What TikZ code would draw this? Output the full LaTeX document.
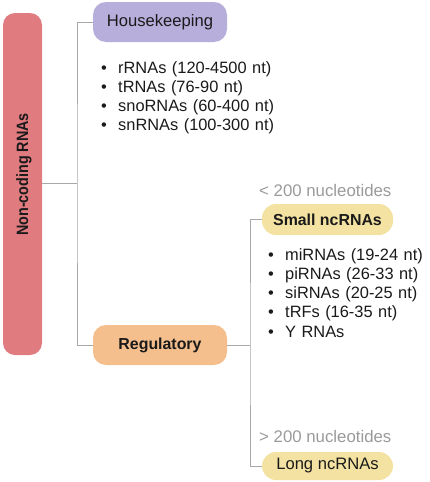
\documentclass[tikz,border=0pt]{standalone}
\usepackage{fontspec}
\setmainfont{Liberation Sans}
\definecolor{ncred}{HTML}{E07B80}
\definecolor{houselilac}{HTML}{B7AEDB}
\definecolor{regorange}{HTML}{F4BE8D}
\definecolor{sizeyellow}{HTML}{F3E2A1}
\definecolor{linkgray}{HTML}{A8A8A8}
\definecolor{notegray}{HTML}{9A9A9A}
\definecolor{inkblack}{HTML}{1A1A1A}
\tikzset{
  catbox/.style={rounded corners=13pt, minimum width=134pt, minimum height=40pt, inner sep=0pt, text=inkblack},
  subbox/.style={rounded corners=14pt, minimum width=131pt, inner sep=0pt, fill=sizeyellow, text=inkblack},
  linkline/.style={draw=linkgray, line width=0.9pt},
  itemlist/.style={anchor=base west, text width=220pt, align=left, inner sep=0pt, text=inkblack, font=\fontsize{16.4}{19.3}\selectfont},
  sizenote/.style={anchor=base west, inner sep=0pt, text=notegray, font=\fontsize{16.8}{20}\selectfont}
}
\newcommand{\bul}{\makebox[17pt][l]{\textbullet}}
\begin{document}
\begin{tikzpicture}[x=1pt,y=-1pt]
\useasboundingbox (0,0) rectangle (429,482);
% left column
\node [fill=ncred, rounded corners=12pt, minimum width=39pt, minimum height=342pt, inner sep=0pt] (ncrna) at (22.5,184) {};
\node [rotate=90, anchor=base, inner sep=0pt, text=inkblack, font=\fontsize{16.4}{18}\selectfont\bfseries] (ncrnatext) at (28,174.5) {\scalebox{0.875}[1]{Non-coding RNAs}};
\coordinate (trunk) at (77,183);
% housekeeping
\node [catbox, fill=houselilac, font=\fontsize{16.6}{20}\selectfont] (house) at (160,22) {Housekeeping};
\node [itemlist] (houselist) at (101,73) {\bul rRNAs (120-4500 nt)\\\bul tRNAs (76-90 nt)\\\bul snoRNAs (60-400 nt)\\\bul snRNAs (100-300 nt)};
% regulatory
\node [catbox, fill=regorange, font=\fontsize{15.9}{20}\selectfont\bfseries] (reg) at (160,345) {Regulatory};
\coordinate (branch) at (250,345);
% small and long
\node [sizenote] (smallnote) at (259,196) {< 200 nucleotides};
\node [subbox, minimum height=31pt, font=\fontsize{15.9}{20}\selectfont\bfseries] (small) at (327.5,219.5) {Small ncRNAs};
\node [itemlist] (smalllist) at (268,260) {\bul miRNAs (19-24 nt)\\\bul piRNAs (26-33 nt)\\\bul siRNAs (20-25 nt)\\\bul tRFs (16-35 nt)\\\bul Y RNAs};
\node [sizenote] (longnote) at (259,442) {> 200 nucleotides};
\node [subbox, minimum height=28pt, font=\fontsize{16.6}{20}\selectfont] (long) at (327.5,466) {Long ncRNAs};
% connectors
\draw [linkline] (ncrna.east |- trunk) -- (trunk);
\draw [linkline] (house.west) -| (trunk) |- (reg.west);
\draw [linkline] (reg.east) -- (branch);
\draw [linkline] (small.west) -| (branch) |- (long.west);
\end{tikzpicture}
\end{document}
